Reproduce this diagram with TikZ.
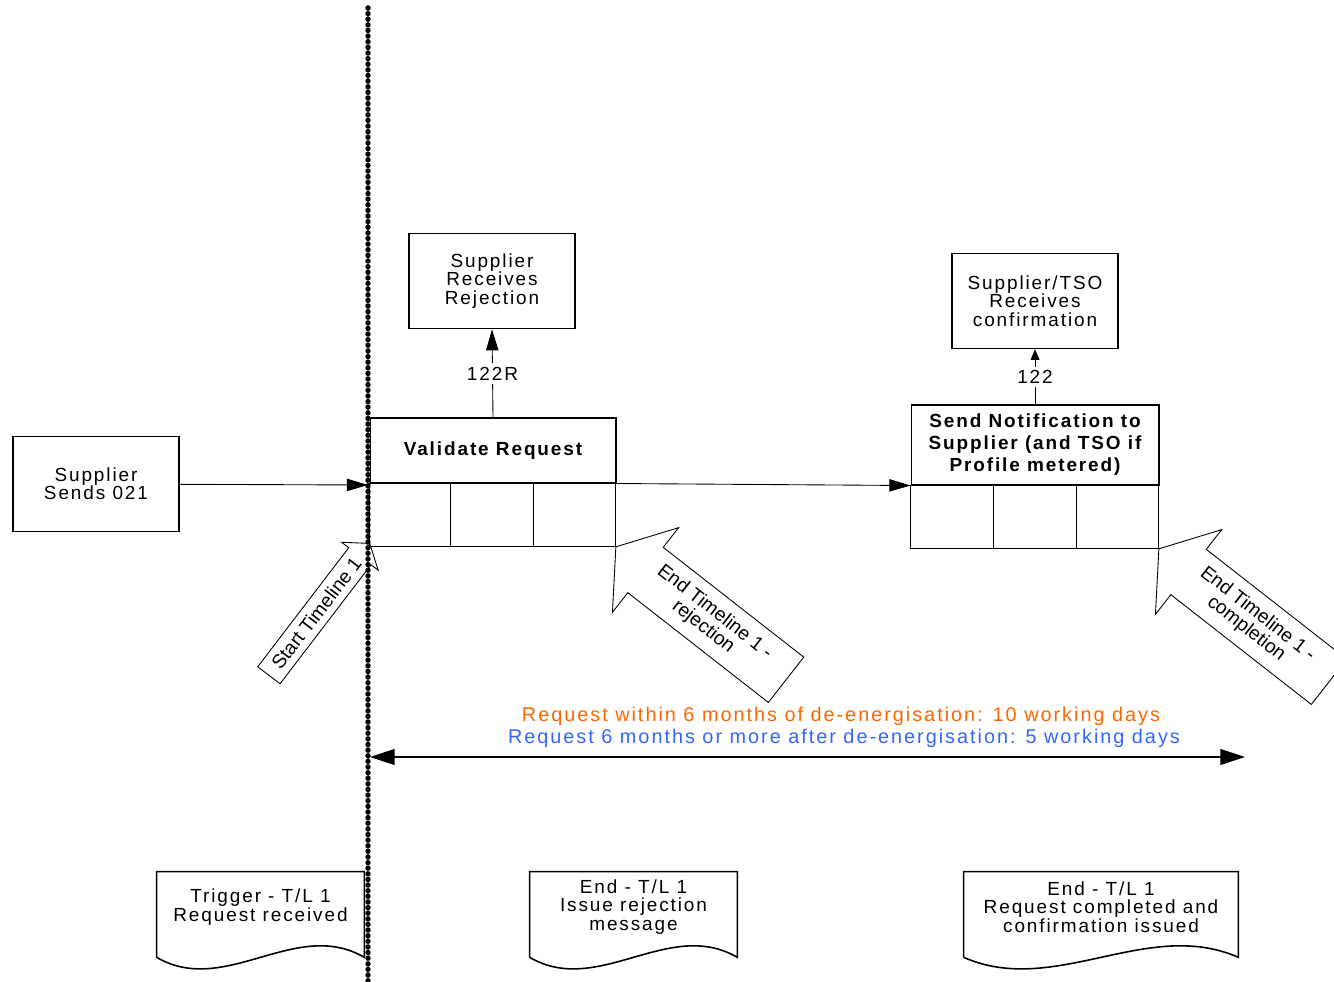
\documentclass[tikz,border=0pt]{standalone}
\usepackage{fontspec}
\setmainfont{Liberation Sans}[LetterSpace=10]
\newfontfamily\arrowfont{Liberation Sans}
\usetikzlibrary{arrows.meta,positioning,shapes.arrows,calc}

\definecolor{withincol}{RGB}{255,102,0}
\definecolor{aftercol}{RGB}{51,102,255}

% outline of a document box with wavy bottom
\newcommand\docoutline[1]{%
	\draw[docline] ($(#1.south west)+(0,15)$) -- (#1.north west) -- (#1.north east) -- ($(#1.south east)+(0,15)$)
	.. controls ($(#1.south east)!0.33!(#1.south west)+(0,-25)$) and ($(#1.south east)!0.67!(#1.south west)+(0,55)$) .. ($(#1.south west)+(0,15)$);}

\begin{document}
\begin{tikzpicture}
	[x=0.02cm,y=-0.02cm,>={Triangle[length=12pt,width=7pt]},
		txt/.style={font=\fontsize{10.8}{10.4}\selectfont,align=center},
		box/.style={txt,draw,line width=0.9pt,minimum width=3.32cm,minimum height=1.9cm,inner sep=1pt},
		stepbox/.style={draw,line width=0.6pt,font=\bfseries\fontsize{10.8}{12.5}\selectfont,align=center,inner sep=1pt},
		cell/.style={draw,line width=0.8pt,minimum height=1.26cm,inner sep=0pt,outer sep=0pt},
		docbox/.style={txt,minimum height=1.4cm,inner sep=0pt},
		docline/.style={line width=0.9pt},
		tlarrow/.style={single arrow,draw,line width=0.5pt,font=\arrowfont\fontsize{11}{10.6}\selectfont,align=center,single arrow tip angle=110},
		rule/.style={font=\fontsize{11.3}{10.4}\selectfont,inner sep=0pt},
		conn/.style={line width=0.5pt}]

	\useasboundingbox (0,0) rectangle (1334,982);

	% timeline marker
	\coordinate (ltop) at (368,8);
	\coordinate (lbot) at (368,982);
	\coordinate (entry) at (368,485);
	\draw[line width=3.1pt,line cap=round,dash pattern=on 0pt off 3.2pt] (ltop) -- (lbot);

	\node[box] (supplier) at (96,484) {Supplier\\Sends 021};
	\node[box] (rejected) at (492,281) {Supplier\\Receives\\Rejection};
	\node[box] (confirmed) at (1035,301) {Supplier/TSO\\Receives\\confirmation};

	\node[stepbox,minimum width=4.92cm,minimum height=1.3cm] (validate) at (493,450.5) {Validate Request};
	\node[cell,minimum width=1.62cm,anchor=north west] (vcell1) at (validate.south west) {};
	\node[cell,minimum width=1.66cm,right=0pt of vcell1] (vcell2) {};
	\node[cell,minimum width=1.64cm,right=0pt of vcell2] (vcell3) {};

	\node[stepbox,minimum width=4.96cm,minimum height=1.6cm] (notify) at (1035,445) {Send Notification to\\Supplier (and TSO if\\Profile metered)};
	\node[cell,minimum width=1.66cm,anchor=north west] (ncell1) at (notify.south west) {};
	\node[cell,minimum width=1.66cm,right=0pt of ncell1] (ncell2) {};
	\node[cell,minimum width=1.64cm,right=0pt of ncell2] (ncell3) {};

	\draw[conn,->] (supplier) -- (entry);
	\draw[conn,->] (validate.south east) -- (notify.south west);
	\draw[conn,->] (validate.north) -- node[txt,fill=white,inner sep=2pt] {122R} (rejected.south);
	\draw[conn,-{Triangle[length=6pt,width=5pt]}] (notify.north) -- node[txt,fill=white,inner sep=2pt] {122} (confirmed.south);

	% timeline arrows
	\node[tlarrow,rotate=52.6,anchor=tip,minimum height=3.32cm,inner ysep=0.13cm,single arrow head extend=0.18cm] (tlstart) at (370,543) {Start Timeline 1};
	\node[tlarrow,rotate=-38,shape border rotate=180,anchor=tip,minimum height=4.32cm,inner ysep=0.2cm,single arrow head extend=0.5cm] (tlreject) at (vcell3.south east) {End Timeline 1 -\\rejection};
	\node[tlarrow,rotate=-38,shape border rotate=180,anchor=tip,minimum height=4.32cm,inner ysep=0.2cm,single arrow head extend=0.5cm] (tlcomplete) at (ncell3.south east) {End Timeline 1 -\\completion};

	% duration
	\node[rule,text=withincol] (within) at (841,716) {Request within 6 months of de-energisation: 10 working days};
	\node[rule,text=aftercol] (after) at (844,738) {Request 6 months or more after de-energisation: 5 working days};
	\coordinate (spanl) at (370,757);
	\coordinate (spanr) at (1245,757);
	\draw[line width=0.8pt,{Triangle[length=14pt,width=9pt]}-{Triangle[length=14pt,width=9pt]}] (spanl) -- (spanr);

	% documents
	\node[docbox,minimum width=4.14cm] (trigger) at (260.5,907) {Trigger - T/L 1\\Request received};
	\node[docbox,minimum width=4.14cm] (endreject) at (633.5,907) {End - T/L 1\\Issue rejection\\message};
	\node[docbox,minimum width=5.48cm] (endcomplete) at (1101,907) {End - T/L 1\\Request completed and\\confirmation issued};
	\docoutline{trigger}
	\docoutline{endreject}
	\docoutline{endcomplete}
\end{tikzpicture}
\end{document}
